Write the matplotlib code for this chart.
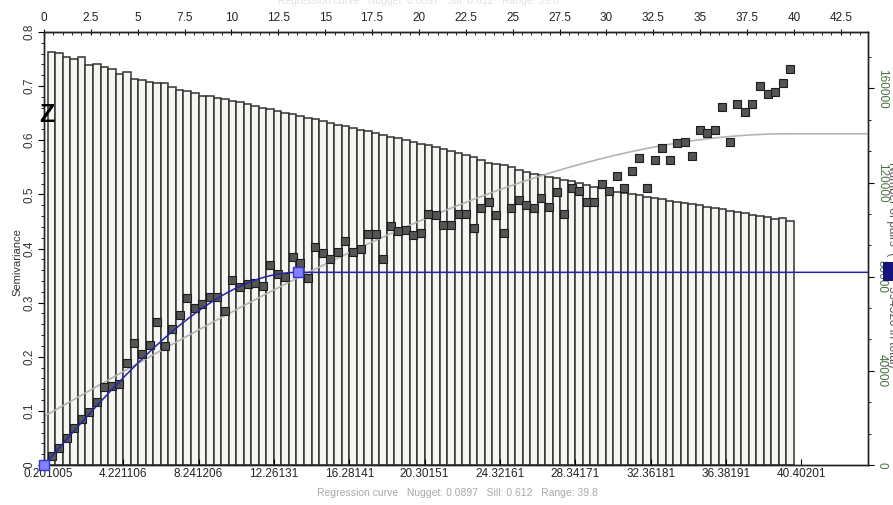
import numpy as np
import matplotlib
matplotlib.use("Agg")
import matplotlib.pyplot as plt
from matplotlib.patches import Rectangle
from matplotlib.ticker import MultipleLocator, FixedLocator, FuncFormatter

plt.rcParams['font.family'] = ['Liberation Sans', 'DejaVu Sans']

# lag classes (bin width 80/199)
bin_width = 0.40201
n_bins = 99

# number of pairs per lag class
pairs = [175600, 174900, 173200, 172400, 173200, 170000, 170400, 169000, 168100, 166100,
         167100, 163900, 163600, 162900, 162400, 162200, 160700, 159300, 159100, 157900,
         156800, 156700, 156100, 155500, 154700, 154200, 153400, 152500, 151700, 151300,
         150400, 149600, 149100, 148300, 147400, 147000, 146200, 145300, 144500, 144000,
         143200, 142300, 141900, 141100, 140200, 139400, 138900, 138100, 137200, 136400,
         136000, 135100, 134300, 133400, 132600, 131700, 130900, 129600, 128400, 127900,
         127500, 126500, 125300, 124600, 123600, 123200, 122200, 121800, 120900, 120700,
         119800, 119000, 118300, 118100, 116800, 116100, 115700, 115100, 114700, 114000,
         113300, 112900, 112300, 111600, 111200, 110900, 110300, 109800, 109200, 108600,
         108100, 107500, 106900, 106100, 106000, 105500, 104500, 104800, 103800]

# experimental semivariance per lag class
semivar = [0.017, 0.031, 0.049, 0.069, 0.085, 0.098, 0.117, 0.144, 0.146, 0.149,
           0.189, 0.225, 0.206, 0.222, 0.265, 0.220, 0.252, 0.277, 0.309, 0.290,
           0.298, 0.311, 0.311, 0.284, 0.341, 0.328, 0.335, 0.337, 0.330, 0.370,
           0.352, 0.347, 0.384, 0.373, 0.346, 0.402, 0.391, 0.380, 0.393, 0.413,
           0.393, 0.399, 0.427, 0.427, 0.381, 0.441, 0.433, 0.435, 0.425, 0.429,
           0.463, 0.461, 0.443, 0.443, 0.463, 0.463, 0.438, 0.475, 0.486, 0.461,
           0.428, 0.475, 0.489, 0.481, 0.475, 0.493, 0.477, 0.504, 0.464, 0.511,
           0.507, 0.485, 0.485, 0.519, 0.506, 0.534, 0.512, 0.543, 0.568, 0.512,
           0.564, 0.586, 0.563, 0.594, 0.596, 0.570, 0.619, 0.614, 0.619, 0.662,
           0.596, 0.667, 0.652, 0.667, 0.701, 0.686, 0.690, 0.706, 0.732]

# regression curve (spherical)
reg_nugget, reg_sill, reg_range = 0.0897, 0.612, 39.8
# user model (spherical, blue)
mod_nugget, mod_sill, mod_range = 0.0, 0.356, 13.55

bottom_ticks = [0.201005, 4.221106, 8.241206, 12.26131, 16.28141, 20.30151,
                24.32161, 28.34171, 32.36181, 36.38191, 40.40201]

caption = 'Regression curve   Nugget: 0.0897   Sill: 0.612   Range: 39.8'

x_max = 43.95
pairs_max = 184000
sv_max = 0.8


def spherical(h, nugget, sill, rng):
    r = np.clip(h / rng, 0, 1)
    return nugget + (sill - nugget) * (1.5 * r - 0.5 * r ** 3)


lags = np.arange(1, n_bins + 1) * bin_width

fig = plt.figure(figsize=(8.93, 5.05), dpi=100)
ax = fig.add_axes([44 / 893, 40 / 505, 824 / 893, 433 / 505])
ax_sv = ax.twinx()

# pair-count bars
ax.bar(lags, pairs, width=bin_width, color='#f5f6f1', edgecolor='#333333', linewidth=1.1)
ax.set_xlim(0, x_max)
ax.set_ylim(0, pairs_max)
ax.yaxis.tick_right()
ax.yaxis.set_major_locator(MultipleLocator(40000))
ax.yaxis.set_minor_locator(MultipleLocator(40000 / 3))
ax.tick_params(axis='y', which='major', direction='out', length=4, labelsize=8.5,
               labelcolor='#4b6f44', pad=1.5)
ax.tick_params(axis='y', which='minor', direction='out', length=2.5)
for lbl in ax.get_yticklabels():
    lbl.set_rotation(270)
    lbl.set_va('center')

ax.xaxis.set_major_locator(FixedLocator(bottom_ticks))
ax.xaxis.set_major_formatter(FuncFormatter(lambda v, p: '%.7g' % v))
ax.tick_params(axis='x', which='major', direction='in', length=4, labelsize=8.5,
               labelcolor='#222222', pad=2)

# semivariance layer
h = np.linspace(0, x_max, 500)
ax_sv.plot(h, spherical(h, reg_nugget, reg_sill, reg_range), color='#b4b4b4', lw=1.2, zorder=2)
ax_sv.plot(lags, semivar, 's', ms=6, mfc='#555555', mec='#1c1c1c', mew=0.8, zorder=3)
ax_sv.plot(h, spherical(h, mod_nugget, mod_sill, mod_range), color='#2323a8', lw=1.1, zorder=4)
ax_sv.plot([0, mod_range], [mod_nugget, mod_sill], 's', ms=7, mfc='#8282ff', mec='#3434c8',
           mew=1, zorder=5, clip_on=False)
ax_sv.set_ylim(0, sv_max)
ax_sv.yaxis.tick_left()
ax_sv.yaxis.set_major_locator(MultipleLocator(0.1))
ax_sv.yaxis.set_minor_locator(MultipleLocator(0.02))
ax_sv.yaxis.set_major_formatter(FuncFormatter(lambda v, p: '%g' % round(v, 2)))
ax_sv.tick_params(axis='y', which='major', direction='out', length=4, labelsize=8.5,
                  labelcolor='#333333', pad=2)
ax_sv.tick_params(axis='y', which='minor', direction='out', length=2)
for lbl in ax_sv.get_yticklabels():
    lbl.set_rotation(90)
    lbl.set_va('center')

# top lag axis
top = ax_sv.secondary_xaxis('top')
top.xaxis.set_major_locator(MultipleLocator(2.5))
top.xaxis.set_minor_locator(MultipleLocator(0.5))
top.xaxis.set_major_formatter(FuncFormatter(lambda v, p: '%g' % v))
top.tick_params(which='major', direction='inout', length=5, labelsize=8.5,
                labelcolor='#222222', pad=3)
top.tick_params(which='minor', direction='in', length=2.5)

for a in (ax, ax_sv):
    for s in a.spines.values():
        s.set_color('#222222')
        s.set_linewidth(1)

fig.text(17 / 893, 1 - 262 / 505, 'Semivariance', rotation=90, ha='center', va='center',
         fontsize=8, color='#333333')
fig.text(39 / 893, 1 - 115 / 505, 'Z', fontsize=18, fontweight='bold', ha='left', va='center')
fig.text(457 / 893, 1 - 493 / 505, caption, ha='center', va='center', fontsize=7.5, color='#a8a8a8')
fig.text(418 / 893, 1 - 1 / 505, caption, ha='center', va='center', fontsize=7.5, color='#e2e2e2')

# right-hand axis title, mostly cut by the figure edge
fig.text(892 / 893, 1 - 256 / 505, 'Number of pairs  (', rotation=270, rotation_mode='anchor',
         ha='right', va='center', fontsize=8.5, color='#555555')
fig.text(892 / 893, 1 - 286 / 505, '594520 in total)', rotation=270, rotation_mode='anchor',
         ha='left', va='center', fontsize=8.5, color='#555555')
fig.patches.append(Rectangle((883 / 893, 1 - 281 / 505), 12 / 893, 19 / 505,
                             transform=fig.transFigure, facecolor='#14147e', edgecolor='none'))

fig.savefig('out.png', dpi=100)
